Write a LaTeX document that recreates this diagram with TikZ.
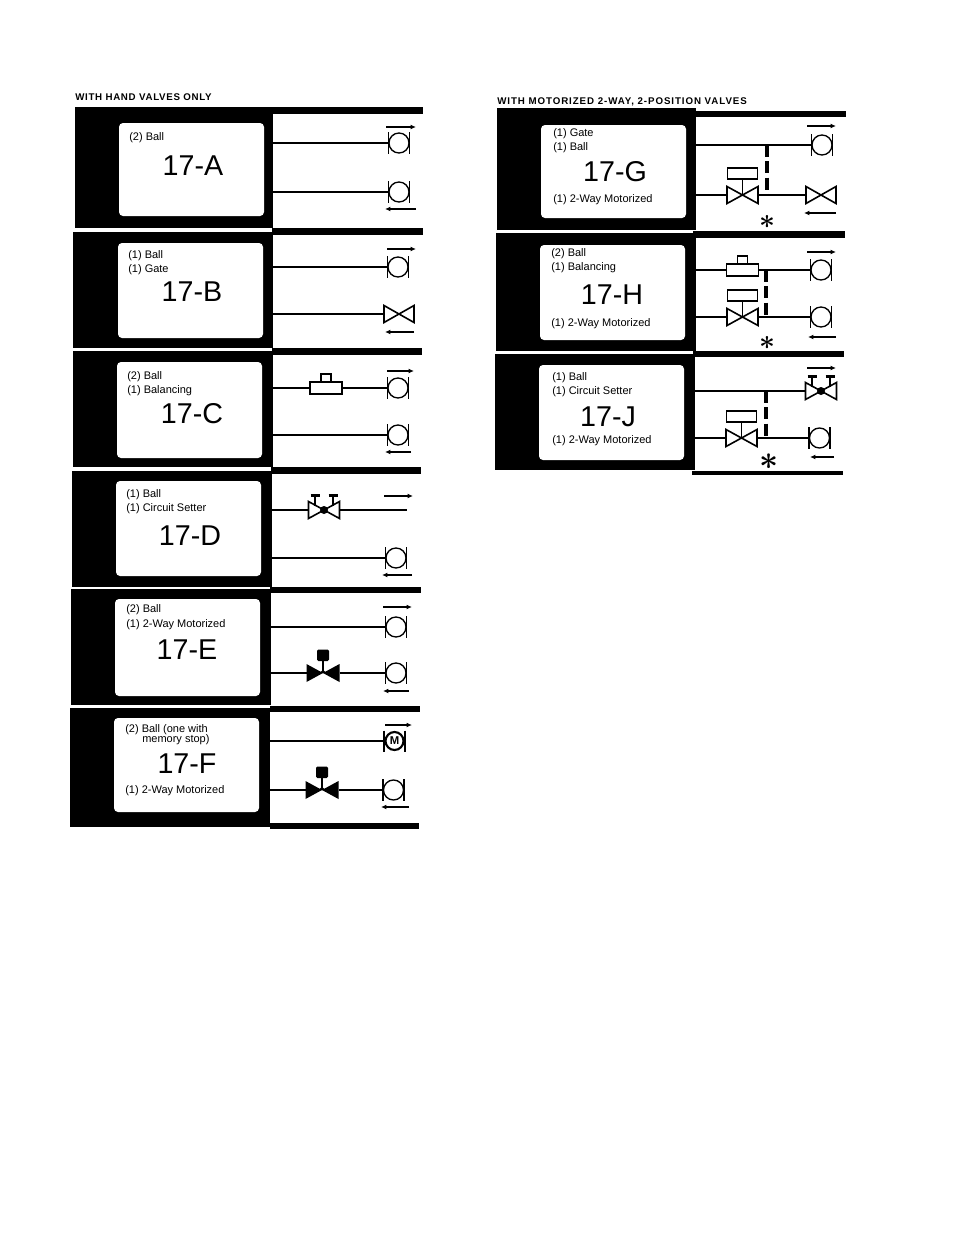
\documentclass[tikz,border=0pt]{standalone}
\usepackage{fontspec}
\usetikzlibrary{arrows.meta}
\setmainfont{Liberation Sans}
\tikzset{
	ink/.style={fill=black},
	card/.style={fill=white,rounded corners=3pt},
	pipe/.style={line width=0.9pt},
	tie/.style={line width=2.5pt,dash pattern=on 9pt off 3.2pt},
	flow/.style={line width=1pt,-{Latex[length=4pt,width=3.6pt]}},
	tag/.style={anchor=west,inner sep=0pt,font=\fontsize{8.25}{10}\selectfont},
	num/.style={inner sep=0pt,font=\fontsize{21.5}{24}\selectfont},
	head/.style={anchor=west,inner sep=0pt,font=\fontsize{7.3}{9}\bfseries\selectfont},
	star/.style={inner sep=0pt,font=\fontsize{21}{21}\selectfont\boldmath},
	pics/ballv/.style={code={
		\draw[line width=1.3pt] (-10.5,-11) -- (-10.5,11);
		\draw[line width=1.3pt] (10.5,-11) -- (10.5,11);
		\draw[line width=1pt] (0,0) circle[radius=10];
		\coordinate (-w) at (-10.5,0);
	}},
	pics/mballv/.style={code={
		\draw[line width=1.3pt] (-10.5,-10.5) -- (-10.5,10.5);
		\draw[line width=1.3pt] (10.5,-10.5) -- (10.5,10.5);
		\draw[line width=1.6pt] (0,0) circle[radius=9];
		\node[inner sep=0pt,font=\fontsize{8.5}{8}\bfseries\selectfont] (-m) at (0,0) {M};
		\coordinate (-w) at (-10.5,0);
	}},
	pics/gatev/.style={code={
		\draw[line width=1.2pt] (-15,-8.5) -- (15,8.5) -- (15,-8.5) -- (-15,8.5) -- cycle;
		\coordinate (-w) at (-15,0);
		\coordinate (-e) at (15,0);
	}},
	pics/motorv/.style={code={
		\draw[line width=1.2pt] (-15.5,-8.5) -- (15.5,8.5) -- (15.5,-8.5) -- (-15.5,8.5) -- cycle;
		\draw[line width=0.9pt] (0,0) -- (0,-16);
		\draw[line width=1.3pt] (-15,-27) rectangle (15,-16);
		\coordinate (-w) at (-15.5,0);
		\coordinate (-e) at (15.5,0);
	}},
	pics/solidv/.style={code={
		\fill (-16.5,-9) -- (16.5,9) -- (16.5,-9) -- (-16.5,9) -- cycle;
		\fill (-4,0) -- (4,0) -- (0,-3) -- cycle;
		\draw[line width=1pt] (0,0) -- (0,-14);
		\fill[rounded corners=1pt] (-6,-23.5) rectangle (6,-12);
		\coordinate (-w) at (-16.5,0);
		\coordinate (-e) at (16.5,0);
	}},
	pics/balv/.style={code={
		\draw[line width=1.2pt] (-5,-14) rectangle (5,-6);
		\draw[line width=1.2pt,fill=white] (-16,-6) rectangle (16,6);
		\coordinate (-w) at (-16,0);
		\coordinate (-e) at (16,0);
	}},
	pics/setterv/.style={code={
		\draw[line width=1.2pt] (-15.5,-8.5) -- (15.5,8.5) -- (15.5,-8.5) -- (-15.5,8.5) -- cycle;
		\fill (0,0) circle[radius=4];
		\draw[line width=1.1pt] (-9,-4) -- (-9,-14);
		\draw[line width=1.1pt] (9,-4) -- (9,-14);
		\draw[line width=1.6pt] (-13.5,-14.5) -- (-4.5,-14.5);
		\draw[line width=1.6pt] (4.5,-14.5) -- (13.5,-14.5);
		\coordinate (-w) at (-15.5,0);
		\coordinate (-e) at (15.5,0);
	}},
}
\begin{document}
\begin{tikzpicture}[x=0.75pt,y=-0.75pt]
	\useasboundingbox (0,0) rectangle (954,1235);

	% left column
	\node[head] (lefthead) at (75,97.5) {\addfontfeature{LetterSpace=7}WITH HAND VALVES ONLY};

	% 17-A
	\fill[ink] (75,107) rectangle (273,228);
	\fill[ink] (273,107) rectangle (423,114);
	\fill[card] (119,123) rectangle (264,216);
	\node[tag] (a1) at (129,137.5) {(2) Ball};
	\node[num] (a2) at (193,166) {17-A};
	\coordinate (a3) at (273,143);
	\coordinate (a4) at (273,192);
	\pic (a5) at (399,143) {ballv};
	\pic (a6) at (399,192) {ballv};
	\draw[pipe] (a3) -- (a5-w);
	\draw[pipe] (a4) -- (a6-w);
	\draw[flow] (386,127) -- (416,127);
	\draw[flow] (416,209) -- (385,209);

	% 17-B
	\fill[ink] (73,232) rectangle (273,348);
	\fill[ink] (272,228) rectangle (423,235);
	\fill[card] (118,243) rectangle (263,338);
	\node[tag] (b1) at (128,256) {(1) Ball};
	\node[tag] (b2) at (128,270) {(1) Gate};
	\node[num] (b3) at (192,292) {17-B};
	\coordinate (b4) at (273,267);
	\coordinate (b5) at (273,314);
	\pic (b6) at (398,267) {ballv};
	\pic (b7) at (399,314) {gatev};
	\draw[pipe] (b4) -- (b6-w);
	\draw[pipe] (b5) -- (b7-w);
	\draw[flow] (387,249) -- (416,249);
	\draw[flow] (414,332) -- (385,332);

	% 17-C
	\fill[ink] (73,351) rectangle (273,467);
	\fill[ink] (272,348) rectangle (422,355);
	\fill[card] (117,362) rectangle (262,458);
	\node[tag] (c1) at (127,377) {(2) Ball};
	\node[tag] (c2) at (127,391) {(1) Balancing};
	\node[num] (c3) at (192,414) {17-C};
	\coordinate (c4) at (272,388);
	\coordinate (c5) at (272,435);
	\pic (c6) at (326,388) {balv};
	\pic (c7) at (398,388) {ballv};
	\pic (c8) at (398,435) {ballv};
	\draw[pipe] (c4) -- (c6-w);
	\draw[pipe] (c6-e) -- (c7-w);
	\draw[pipe] (c5) -- (c8-w);
	\draw[flow] (387,371) -- (414,371);
	\draw[flow] (411,452) -- (385,452);

	% 17-D
	\fill[ink] (72,471) rectangle (272,587);
	\fill[ink] (271,467) rectangle (421,474);
	\fill[card] (116,481) rectangle (261,576);
	\node[tag] (d1) at (126,495) {(1) Ball};
	\node[tag] (d2) at (126,509) {(1) Circuit Setter};
	\node[num] (d3) at (190,536) {17-D};
	\coordinate (d4) at (272,510);
	\coordinate (d5) at (272,558);
	\coordinate (d6) at (407,510);
	\pic (d7) at (324,510) {setterv};
	\pic (d8) at (396,558) {ballv};
	\draw[pipe] (d4) -- (d7-w);
	\draw[pipe] (d7-e) -- (d6);
	\draw[pipe] (d5) -- (d8-w);
	\draw[flow] (384,496) -- (413,496);
	\draw[flow] (412,575) -- (382,575);

	% 17-E
	\fill[ink] (71,589) rectangle (271,705);
	\fill[ink] (270,587) rectangle (421,593);
	\fill[card] (115,599) rectangle (260,696);
	\node[tag] (e1) at (126,610) {(2) Ball};
	\node[tag] (e2) at (126,625) {(1) 2-Way Motorized};
	\node[num] (e3) at (187,650) {17-E};
	\coordinate (e4) at (271,627);
	\coordinate (e5) at (271,673);
	\pic (e6) at (396,627) {ballv};
	\pic (e7) at (323,673) {solidv};
	\pic (e8) at (396,673) {ballv};
	\draw[pipe] (e4) -- (e6-w);
	\draw[pipe] (e5) -- (e7-w);
	\draw[pipe] (e7-e) -- (e8-w);
	\draw[flow] (383,607) -- (412,607);
	\draw[flow] (409,691) -- (383,691);

	% 17-F
	\fill[ink] (70,708) rectangle (270,827);
	\fill[ink] (270,706) rectangle (420,712);
	\fill[ink] (270,823) rectangle (419,829);
	\fill[card] (114,718) rectangle (259,812);
	\node[tag] (f1) at (125,730) {(2) Ball (one with};
	\node[tag] (f2) at (142,740) {memory stop)};
	\node[num] (f3) at (187,764) {17-F};
	\node[tag] (f4) at (125,791) {(1) 2-Way Motorized};
	\coordinate (f5) at (270,741);
	\coordinate (f6) at (270,790);
	\pic (f7) at (394.5,741) {mballv};
	\pic (f8) at (322,790) {solidv};
	\pic (f9) at (393.5,790) {ballv};
	\draw[pipe] (f5) -- (f7-w);
	\draw[pipe] (f6) -- (f8-w);
	\draw[pipe] (f8-e) -- (f9-w);
	\draw[flow] (385,725) -- (412,725);
	\draw[flow] (409,807) -- (381,807);

	% right column
	\node[head] (righthead) at (497,101.5) {\addfontfeature{LetterSpace=9.5}WITH MOTORIZED 2-WAY, 2-POSITION VALVES};

	% 17-G
	\fill[ink] (497,108) rectangle (696,230);
	\fill[ink] (696,111) rectangle (846,117);
	\fill[card] (541,125) rectangle (686,218);
	\node[tag] (g1) at (553,133.5) {(1) Gate};
	\node[tag] (g2) at (553,147.5) {(1) Ball};
	\node[num] (g3) at (615,172) {17-G};
	\node[tag] (g4) at (553,200) {(1) 2-Way Motorized};
	\coordinate (g5) at (696,145);
	\coordinate (g6) at (696,195);
	\coordinate (g7) at (767,145);
	\coordinate (g8) at (767,195);
	\pic (g9) at (822,145) {ballv};
	\pic (g10) at (742.5,195) {motorv};
	\pic (g11) at (821,195) {gatev};
	\draw[pipe] (g5) -- (g9-w);
	\draw[pipe] (g6) -- (g10-w);
	\draw[pipe] (g10-e) -- (g11-w);
	\draw[tie] (g7) -- (g8);
	\draw[flow] (807,126) -- (836,126);
	\draw[flow] (836,213) -- (804,213);
	\node[star] (g12) at (767,222) {$\ast$};

	% 17-H
	\fill[ink] (496,233) rectangle (696,351);
	\fill[ink] (693,231) rectangle (845,238);
	\fill[card] (540,245) rectangle (685,340);
	\node[tag] (h1) at (551,254) {(2) Ball};
	\node[tag] (h2) at (551,268) {(1) Balancing};
	\node[num] (h3) at (612,295) {17-H};
	\node[tag] (h4) at (551,324) {(1) 2-Way Motorized};
	\coordinate (h5) at (696,270);
	\coordinate (h6) at (696,317);
	\coordinate (h7) at (766,270);
	\coordinate (h8) at (766,317);
	\pic (h9) at (742.5,270) {balv};
	\pic (h10) at (821,270) {ballv};
	\pic (h11) at (742.5,317) {motorv};
	\pic (h12) at (821,317) {ballv};
	\draw[pipe] (h5) -- (h9-w);
	\draw[pipe] (h9-e) -- (h10-w);
	\draw[pipe] (h6) -- (h11-w);
	\draw[pipe] (h11-e) -- (h12-w);
	\draw[tie] (h7) -- (h8);
	\draw[flow] (807,252) -- (836,252);
	\draw[flow] (836,337) -- (808,337);
	\node[star] (h13) at (767,343) {$\ast$};

	% 17-J
	\fill[ink] (495,354) rectangle (695,470);
	\fill[ink] (693,351) rectangle (844,357);
	\fill[ink] (692,471) rectangle (843,475);
	\fill[card] (539,365) rectangle (684,460);
	\node[tag] (j1) at (552,378) {(1) Ball};
	\node[tag] (j2) at (552,392) {(1) Circuit Setter};
	\node[num] (j3) at (608,417) {17-J};
	\node[tag] (j4) at (552,441) {(1) 2-Way Motorized};
	\coordinate (j5) at (695,391);
	\coordinate (j6) at (695,438);
	\coordinate (j7) at (766,391);
	\coordinate (j8) at (766,438);
	\pic (j9) at (821,391) {setterv};
	\pic (j10) at (741.5,438) {motorv};
	\pic (j11) at (819.5,438) {ballv};
	\draw[pipe] (j5) -- (j9-w);
	\draw[pipe] (j6) -- (j10-w);
	\draw[pipe] (j10-e) -- (j11-w);
	\draw[tie] (j7) -- (j8);
	\draw[flow] (807,368) -- (836,368);
	\draw[flow] (834,457) -- (810,457);
	\node[star,font=\fontsize{25}{25}\selectfont\boldmath] (j12) at (769,462) {$\ast$};
\end{tikzpicture}
\end{document}
